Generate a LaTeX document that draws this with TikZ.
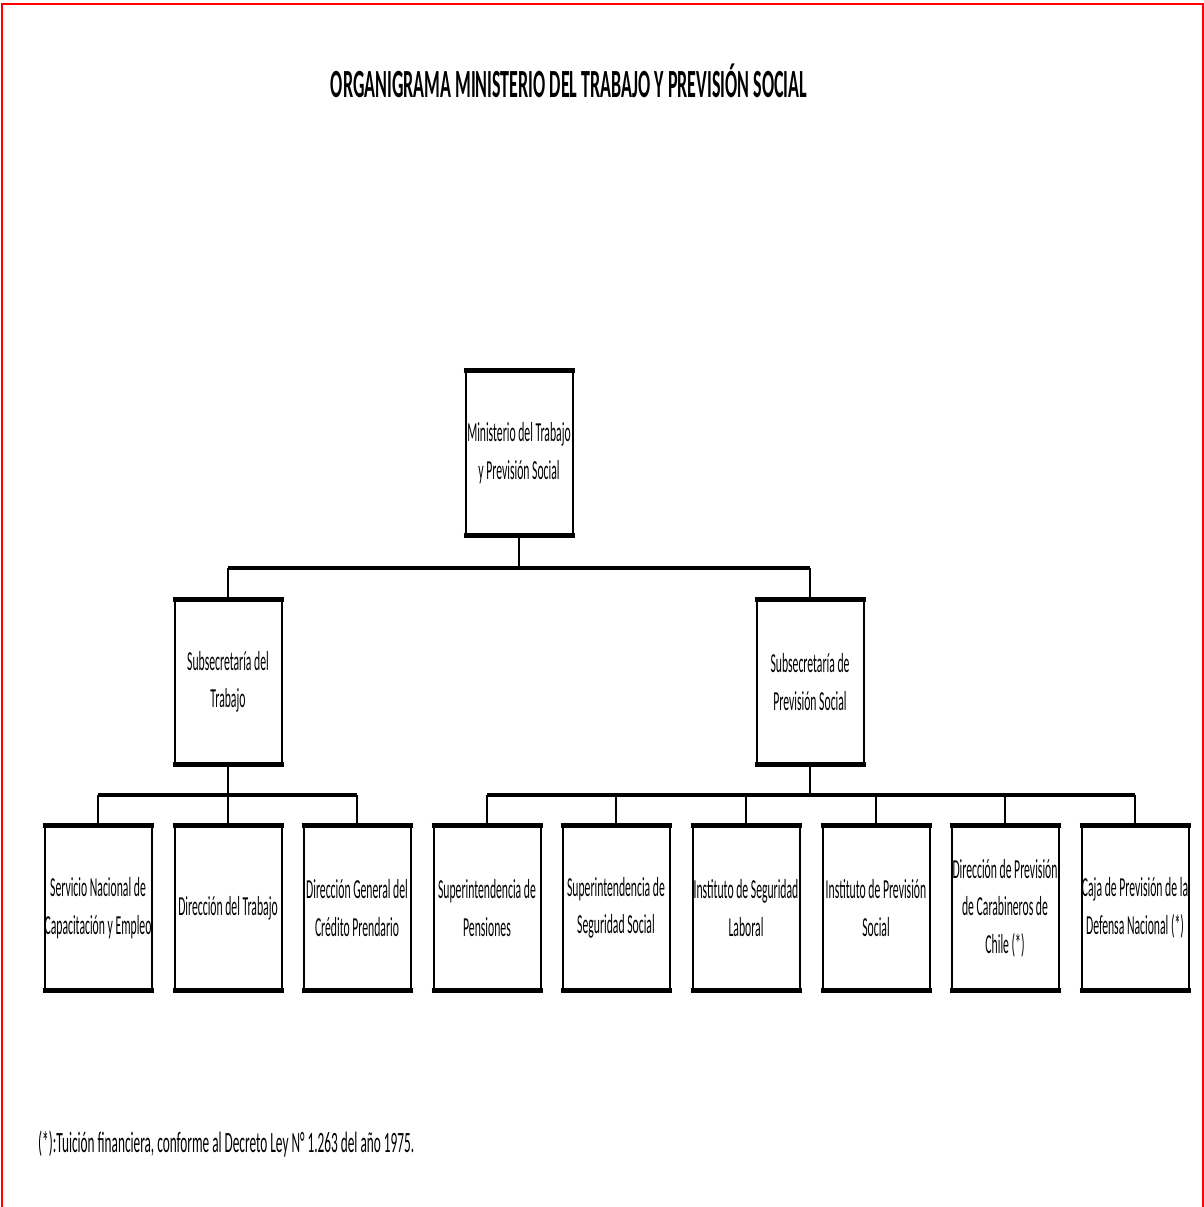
\documentclass[tikz,border=0pt]{standalone}
\usepackage{fontspec}
\usepackage{tikz}
\newfontfamily\orgfont[FakeStretch=0.45]{Carlito}
\newfontfamily\unitfont[FakeStretch=0.425]{Carlito}
\colorlet{frame}{red}
\tikzset{
  % node options
  unit/.style={draw,line width=2pt,minimum width=107pt,minimum height=163pt,
    inner sep=0pt,align=center,font={\unitfont\fontsize{27.5pt}{37.5pt}\selectfont}},
  heading/.style={anchor=base,inner sep=0pt,font={\orgfont\bfseries\fontsize{40pt}{48pt}\selectfont}},
  note/.style={anchor=base west,inner sep=0pt,font={\orgfont\fontsize{29.5pt}{34pt}\selectfont}},
  % path options
  link/.style={line width=2pt},
  bus/.style={line width=4pt},
  rim/.style={line width=5.5pt,shorten <=-1pt,shorten >=-1pt},
  border/.style={frame,line width=2pt},
}
\begin{document}
\begin{tikzpicture}[x=1pt,y=-1pt]
  \useasboundingbox (0,0) rectangle (1204,1207);
  \draw[border] (1.5,1207) -- (1.5,4.5) -- (1202.5,4.5) -- (1202.5,1207);

  \node[heading] (title) at (569,97) {ORGANIGRAMA MINISTERIO DEL TRABAJO Y PREVISIÓN SOCIAL};

  \node[unit] (minist) at (519,453) {Ministerio del Trabajo\\y Previsión Social};
  \node[unit] (subtrab) at (228,682) {Subsecretaría del\\Trabajo};
  \node[unit] (subprev) at (810,682) {Subsecretaría de\\Previsión Social};

  \node[unit] (sence) at (98,908) {Servicio Nacional de\\Capacitación y Empleo};
  \node[unit] (dirtrab) at (228,908) {Dirección del Trabajo};
  \node[unit] (dicrep) at (357,908) {Dirección General del\\Crédito Prendario};
  \node[unit] (spens) at (487,908) {Superintendencia de\\Pensiones};
  \node[unit] (suseso) at (616,908) {Superintendencia de\\Seguridad Social};
  \node[unit] (isl) at (746,908) {Instituto de Seguridad\\Laboral};
  \node[unit] (ips) at (876,908) {Instituto de Previsión\\Social};
  \node[unit] (dipreca) at (1005,908) {Dirección de Previsión\\de Carabineros de\\Chile (*)};
  \node[unit] (capredena) at (1135,908) {Caja de Previsión de la\\Defensa Nacional (*)};

  % thick top and bottom edges
  \foreach \n in {minist,subtrab,subprev,sence,dirtrab,dicrep,spens,suseso,isl,ips,dipreca,capredena} {
    \draw[rim] (\n.north west) -- (\n.north east);
    \draw[rim] (\n.south west) -- (\n.south east);
  }

  \coordinate (bus1) at (0,568);
  \coordinate (bus2) at (0,795);

  \draw[link] (minist.south) -- (minist.south |- bus1);
  \draw[bus] (subtrab |- bus1) -- (subprev |- bus1);
  \draw[link] (subtrab |- bus1) -- (subtrab.north);
  \draw[link] (subprev |- bus1) -- (subprev.north);

  \draw[link] (subtrab.south) -- (subtrab.south |- bus2);
  \draw[bus] (sence |- bus2) -- (dicrep |- bus2);
  \foreach \n in {sence,dirtrab,dicrep}
    \draw[link] (\n |- bus2) -- (\n.north);

  \draw[link] (subprev.south) -- (subprev.south |- bus2);
  \draw[bus] (spens |- bus2) -- (capredena |- bus2);
  \foreach \n in {spens,suseso,isl,ips,dipreca,capredena}
    \draw[link] (\n |- bus2) -- (\n.north);

  \node[note] (footnote) at (38,1152) {(*):Tuición financiera, conforme al Decreto Ley N° 1.263 del año 1975.};
\end{tikzpicture}
\end{document}
